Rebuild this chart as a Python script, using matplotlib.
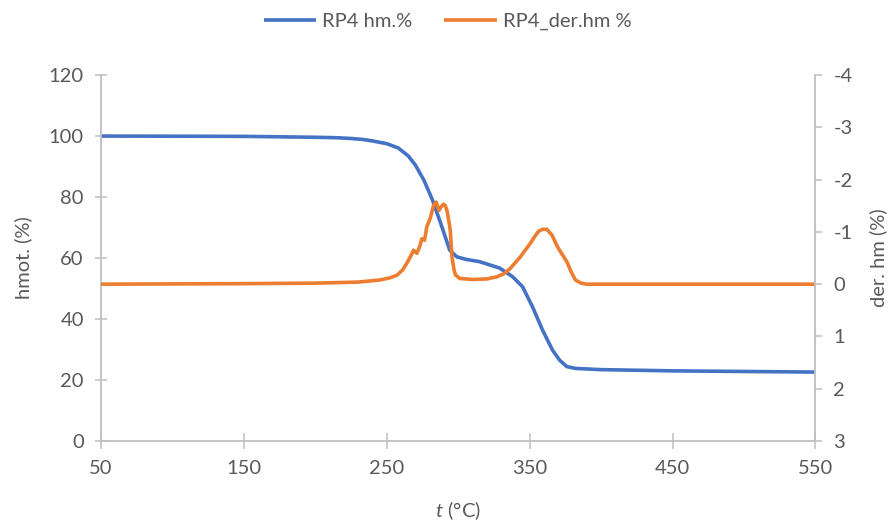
import numpy as np
import matplotlib.pyplot as plt

plt.rcParams['font.family'] = ['Lato', 'DejaVu Sans']
plt.rcParams['mathtext.fontset'] = 'custom'
plt.rcParams['mathtext.it'] = 'Lato:italic'
plt.rcParams['axes.unicode_minus'] = False

# RP4 mass (%) vs temperature
t_hm = [50, 150, 200, 215, 225, 233, 240, 250, 258, 265, 270, 276, 282, 288, 294, 299, 305,
        315, 329, 338, 345, 352, 359, 366, 371, 376, 382, 400, 450, 500, 550]
hm = [100, 99.9, 99.6, 99.45, 99.2, 98.9, 98.4, 97.5, 96.1, 93.5, 90.5, 85.5, 79, 71, 62.6,
      60.4, 59.6, 58.8, 56.7, 53.9, 50.6, 44, 36.4, 29.8, 26.5, 24.4, 23.8, 23.4, 23.0, 22.8, 22.6]

# derivative (%), right axis (inverted)
t_der = [50, 150, 200, 230, 245, 252, 257, 261, 264, 267, 268.7, 271, 273, 274.6, 276.4,
         278, 280.4, 282.7, 284.6, 286.5, 288, 289.7, 291, 292.1, 293.5, 294.4, 295.6,
         297, 298, 301, 310, 320, 327, 332, 336.4, 343.4, 350.4, 354, 356.2, 359, 362,
         365.6, 368, 370.2, 373, 376, 379, 382, 386, 390, 450, 550]
der = [0, -0.01, -0.02, -0.04, -0.08, -0.12, -0.17, -0.27, -0.40, -0.55, -0.65, -0.59,
       -0.72, -0.87, -0.84, -1.10, -1.26, -1.51, -1.57, -1.41, -1.48, -1.53, -1.50, -1.41,
       -1.20, -1.03, -0.52, -0.28, -0.18, -0.11, -0.09, -0.10, -0.14, -0.20, -0.30, -0.52,
       -0.78, -0.93, -1.01, -1.05, -1.05, -0.94, -0.80, -0.68, -0.56, -0.43, -0.24, -0.08,
       -0.02, 0, 0, 0]

grey = '#595959'
axcol = '#BFBFBF'
fs = 14.5

fig = plt.figure(figsize=(8.95, 5.25), dpi=100)
ax = fig.add_axes([0.113, 0.16, 0.798, 0.697])
ax2 = ax.twinx()

l1, = ax.plot(t_hm, hm, color='#4472C4', lw=2.6, label='RP4 hm.%', solid_capstyle='butt')
l2, = ax2.plot(t_der, der, color='#ED7D31', lw=2.6, label='RP4_der.hm %', solid_capstyle='butt')

ax.set_xlim(50, 550)
ax.set_ylim(0, 120)
ax.set_xticks(np.arange(50, 551, 100))
ax.set_yticks(np.arange(0, 121, 20))
ax2.set_ylim(3, -4)
ax2.set_yticks(np.arange(-4, 4, 1))

for a in (ax, ax2):
    a.spines['top'].set_visible(False)
    for s in ('left', 'right', 'bottom'):
        a.spines[s].set_color(axcol)
        a.spines[s].set_linewidth(1.3)
ax.spines['right'].set_visible(False)
ax2.spines['left'].set_visible(False)
ax2.spines['bottom'].set_visible(False)

ax.tick_params(axis='both', direction='inout', length=11, width=1.1, color=axcol,
               labelcolor=grey, labelsize=fs)
ax.tick_params(axis='y', length=9, pad=8)
ax.tick_params(axis='x', pad=8)
ax2.tick_params(axis='y', direction='out', length=5, width=1.1, color=axcol,
                labelcolor=grey, labelsize=fs, pad=8)

ax.set_ylabel('hmot. (%)', color=grey, fontsize=fs, labelpad=12)
ax2.set_ylabel('der. hm (%)', color=grey, fontsize=fs, labelpad=12)
ax.set_xlabel(r'$t$ (°C)', color=grey, fontsize=fs, labelpad=16)

fig.legend(handles=[l1, l2], loc='upper center', bbox_to_anchor=(0.5, 1.01), ncol=2,
           frameon=False, fontsize=fs, labelcolor=grey, handlelength=2.6,
           columnspacing=1.6, handletextpad=0.3)

fig.savefig('out.png', dpi=100)
